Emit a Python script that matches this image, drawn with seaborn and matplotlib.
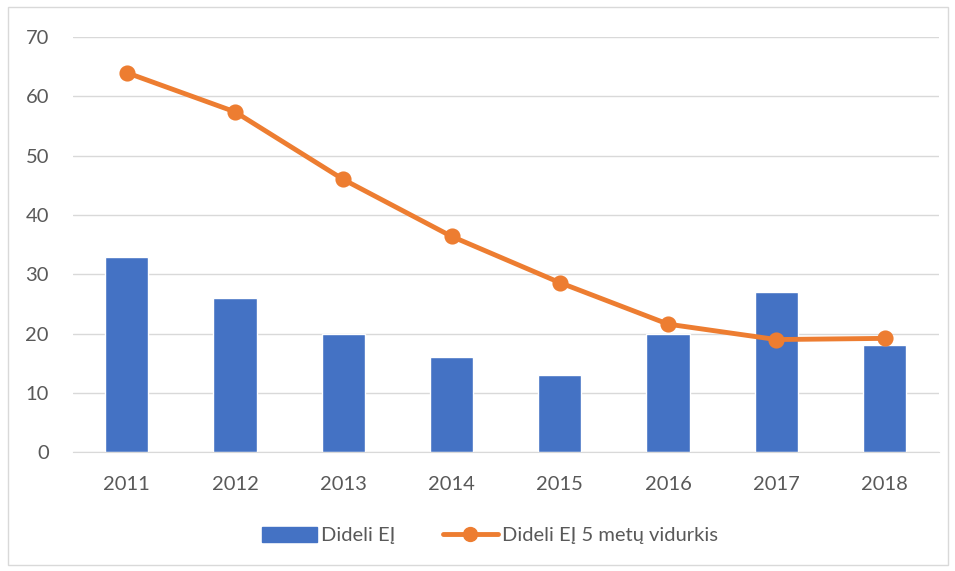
import pandas as pd
import matplotlib.pyplot as plt
import seaborn as sns
from matplotlib.patches import Patch, Rectangle
from matplotlib.lines import Line2D

years = ['2011', '2012', '2013', '2014', '2015', '2016', '2017', '2018']
dideli_ej = [33, 26, 20, 16, 13, 20, 27, 18]
vidurkis = [64.0, 57.4, 46.0, 36.4, 28.6, 21.6, 19.0, 19.2]

df = pd.DataFrame({'metai': years, 'ej': dideli_ej, 'vid': vidurkis})

sns.set_style('white')
plt.rcParams['font.family'] = ['Lato', 'DejaVu Sans']

blue = '#4472C4'
orange = '#ED7D31'
grey_txt = '#595959'

fig = plt.figure(figsize=(9.55, 5.71), dpi=100)
ax = fig.add_axes([0.076, 0.208, 0.907, 0.727])

sns.barplot(data=df, x='metai', y='ej', color=blue, width=0.4, saturation=1, ax=ax)
sns.pointplot(data=df, x='metai', y='vid', color=orange, markers='o',
              markersize=9, linewidth=3.5, ax=ax)

ax.set_ylim(0, 70)
ax.set_yticks(range(0, 71, 10))
ax.set_xlim(-0.5, 7.5)
ax.grid(axis='y', color='#D9D9D9', linewidth=1)
ax.set_axisbelow(True)
for s in ['top', 'right', 'left']:
    ax.spines[s].set_visible(False)
ax.spines['bottom'].set_color('#D9D9D9')
ax.tick_params(axis='both', length=0, labelsize=14.5, labelcolor=grey_txt)
ax.tick_params(axis='x', pad=17)
ax.tick_params(axis='y', pad=17)
ax.set_xlabel('')
ax.set_ylabel('')

handles = [Patch(facecolor=blue, edgecolor=blue),
           Line2D([0], [0], color=orange, linewidth=3.5, marker='o', markersize=10)]
fig.legend(handles, ['Dideli EĮ', 'Dideli EĮ 5 metų vidurkis'], loc='center',
           bbox_to_anchor=(0.513, 0.062), ncol=2, frameon=False, fontsize=14.5,
           labelcolor=grey_txt, handlelength=2.7, handleheight=0.8,
           columnspacing=2.4, handletextpad=0.2)

fig.patches.append(Rectangle((0.008, 0.01), 0.985, 0.978, transform=fig.transFigure,
                             fill=False, edgecolor='#D9D9D9', linewidth=1))

fig.savefig('out.png', dpi=100)
